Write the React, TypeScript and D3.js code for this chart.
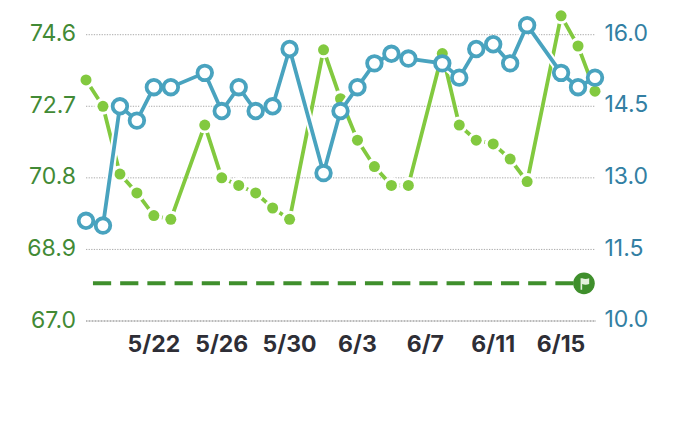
import React from "react";
import * as d3 from "d3";

const W = 680, H = 439;
const dayLabels: (string | null)[] = [null,null,null,null,"5/22",null,null,null,"5/26",null,null,null,"5/30",null,null,null,"6/3",null,null,null,"6/7",null,null,null,"6/11",null,null,null,"6/15",null,null];
const greenValues: (number | null)[] = [73.4,72.7,70.9,70.4,69.8,69.7,null,72.2,70.8,70.6,70.4,70.0,69.7,null,74.2,72.9,71.8,71.1,70.6,70.6,null,74.1,72.2,71.8,71.7,71.3,70.7,null,75.1,74.3,73.1];
const blueValues: (number | null)[] = [12.1,12.0,14.5,14.2,14.9,14.9,null,15.2,14.4,14.9,14.4,14.5,15.7,null,13.1,14.4,14.9,15.4,15.6,15.5,null,15.4,15.1,15.7,15.8,15.4,16.2,null,15.2,14.9,15.1];
const leftTicks = [67.0, 68.9, 70.8, 72.7, 74.6];
const rightTicks = [10.0, 11.5, 13.0, 14.5, 16.0];
const targetValue = 68.0;

const FONT = "Inter, 'Liberation Sans', sans-serif";
const GREEN_TEXT = "#428a35";
const BLUE_TEXT = "#337fa3";
const GREEN = "#82c93f";
const BLUE = "#49a3bf";
const TARGET = "#3f8f2c";

const x = d3.scaleLinear().domain([0, 30]).range([86, 595]);
const yL = d3.scaleLinear().domain([67, 74.6]).range([321, 34.7]);
const yR = d3.scaleLinear().domain([10, 16]).range([321, 34.7]);

type P = { i: number; v: number };
const pts = (a: (number | null)[]): P[] =>
  a.flatMap((v, i) => (v === null ? [] : [{ i, v }]));

export default function App() {
  const g = pts(greenValues);
  const b = pts(blueValues);
  const gl = d3.line<P>().x(d => x(d.i)).y(d => yL(d.v));
  const bl = d3.line<P>().x(d => x(d.i)).y(d => yR(d.v));
  const tx0 = x(0.41), tx1 = x(29.35), ty = yL(targetValue);
  return (
    <svg width={W} height={H} style={{ position: "absolute", left: 0, top: 0, background: "#fff" }} fontFamily={FONT}>
      {leftTicks.map((t, i) => (
        <line key={t} x1={86} x2={595.5} y1={yL(t)} y2={yL(t)}
          stroke={i === 0 ? "#777" : "#aaa"} strokeWidth={1}
          strokeDasharray={i === 0 ? "1 0.5" : "1.3 1.3"} />
      ))}
      {leftTicks.map(t => (
        <text key={t} x={76} y={yL(t) + 6.5} textAnchor="end" fontSize={23} fill={GREEN_TEXT}>{t.toFixed(1)}</text>
      ))}
      {rightTicks.map(t => (
        <text key={t} x={604.5} y={yR(t) + 6.2} fontSize={23} fill={BLUE_TEXT}>{t.toFixed(1)}</text>
      ))}
      {dayLabels.map((l, i) => l && (
        <text key={l} x={x(i)} y={351.5} textAnchor="middle" fontSize={23} fontWeight={700} fill="#2e2e36">{l}</text>
      ))}

      <line x1={tx0} x2={tx1} y1={ty} y2={ty} stroke={TARGET} strokeWidth={4} strokeDasharray="18.2 9" />
      <circle cx={tx1} cy={ty} r={10.8} fill={TARGET} />
      <path transform={`translate(${tx1},${ty})`} d="M-3.4 -5.2 L-1.8 -5.2 Q1.5 -3.6 5.2 -5.2 L5.2 0.6 Q1.5 2 -1.8 0.6 L-1.8 6.4 L-3.4 6.4 Z" fill="#e4f1dd" />

      <path d={gl(g) ?? ""} fill="none" stroke={GREEN} strokeWidth={3.8} />
      {g.map(d => (
        <circle key={d.i} cx={x(d.i)} cy={yL(d.v)} r={5.5} fill={GREEN} stroke="#fff" strokeWidth={6} style={{ paintOrder: "stroke" }} />
      ))}

      <path d={bl(b) ?? ""} fill="none" stroke="#fff" strokeWidth={8} />
      <path d={bl(b) ?? ""} fill="none" stroke={BLUE} strokeWidth={3.8} />
      {b.map(d => (
        <circle key={d.i} cx={x(d.i)} cy={yR(d.v)} r={7.3} fill="#fff" stroke={BLUE} strokeWidth={3.8} />
      ))}
    </svg>
  );
}
